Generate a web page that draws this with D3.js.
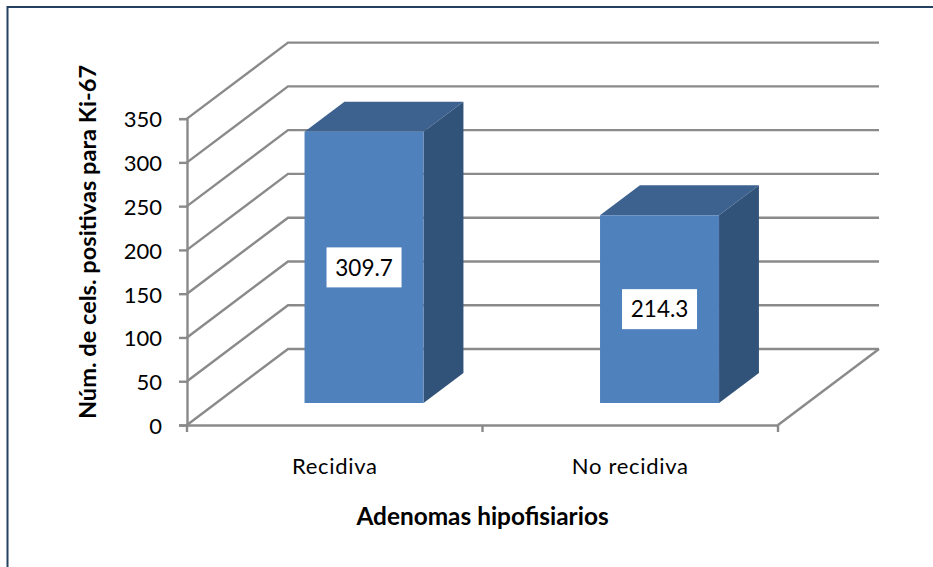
<!DOCTYPE html>
<html>
<head>
<meta charset="utf-8">
<script src="https://cdn.jsdelivr.net/npm/d3@7/dist/d3.min.js"></script>
<style>
  html, body { margin: 0; padding: 0; background: #fff; }
  svg { display: block; }
  text { font-family: Lato, "Open Sans", sans-serif; fill: #000; }
</style>
</head>
<body>
<svg id="chart" width="933" height="567"></svg>
<script>
// Ki-67 positive cell counts in pituitary adenomas
const categories = ["Recidiva", "No recidiva"];
const values = [309.7, 214.3];
const valueTicks = [0, 50, 100, 150, 200, 250, 300, 350];
const yAxisTitle = "Núm. de cels. positivas para Ki-67";
const xAxisTitle = "Adenomas hipofisiarios";

const svg = d3.select("#chart");

// Front plane of the 3D box
const x = d3.scaleBand().domain(categories).range([187, 778]);
const y = d3.scaleLinear().domain([0, 350]).range([425, 118.6]);

// Oblique projection: depth 0 is the front plane, depth 1 the back wall
const depth = d3.scaleLinear().domain([0, 1]);
const depthX = depth.copy().range([0, 101]);
const depthY = depth.copy().range([0, -76]);
const project = (px, value, d) => [px + depthX(d), y(value) + depthY(d)];

const barDepthStart = 0.29;
const barDepthEnd = 0.685;
const barWidth = 119;

const gridColor = "#8a8a8a";
const line = d3.line();

// Outer frame
svg.append("path")
  .attr("d", line([[7.5, 567], [7.5, 7], [933, 7]]))
  .attr("fill", "none").attr("stroke", "#24425f").attr("stroke-width", 2);

// Gridlines running along the side wall and the back wall
svg.append("g").selectAll("path").data(valueTicks).join("path")
  .attr("d", v => line([
    project(x.range()[0], v, 0),
    project(x.range()[0], v, 1),
    project(x.range()[1], v, 1)
  ]))
  .attr("fill", "none").attr("stroke", gridColor).attr("stroke-width", 2.4);

// Right edge of the floor
svg.append("path")
  .attr("d", line([project(x.range()[1], 0, 0), project(x.range()[1], 0, 1)]))
  .attr("fill", "none").attr("stroke", gridColor).attr("stroke-width", 2.4);

// Value axis
const yAxis = svg.append("g")
  .attr("transform", `translate(${x.range()[0]},0)`)
  .call(d3.axisLeft(y).tickValues(valueTicks).tickSize(8).tickPadding(17).tickFormat(d3.format("d")));
yAxis.selectAll("path, line").attr("stroke", gridColor).attr("stroke-width", 2.4);
yAxis.selectAll("line").attr("x1", 0).attr("x2", -8);
yAxis.selectAll("text").attr("x", -25).attr("dy", "0.38em")
  .style("font-size", "22px").style("font-family", "Lato, sans-serif").attr("fill", "#000");

// Category axis
const xAxis = svg.append("g")
  .attr("transform", `translate(0,${y(0)})`)
  .call(d3.axisBottom(x).tickSize(0).tickPadding(31));
xAxis.selectAll("path").attr("stroke", gridColor).attr("stroke-width", 2.4);
xAxis.selectAll("text")
  .attr("y", 48.5).attr("dy", 0)
  .style("font-size", "22px").style("letter-spacing", "0.7px")
  .style("font-family", "Lato, sans-serif").attr("fill", "#000");

// Category separators below the floor edge
svg.append("g").selectAll("line")
  .data([...categories.map(c => x(c)), x.range()[1]]).join("line")
  .attr("x1", d => d).attr("x2", d => d)
  .attr("y1", y(0)).attr("y2", y(0) + 7)
  .attr("stroke", gridColor).attr("stroke-width", 2.4);

// 3D columns
const bars = svg.append("g").selectAll("g")
  .data(categories.map((c, i) => ({ c, v: values[i] })))
  .join("g");

const barLeft = d => x(d.c) + x.bandwidth() / 2 - barWidth / 2;
const poly = pts => line(pts) + "Z";

bars.append("path").attr("fill", "#3d6290").attr("d", d => {
  const l = barLeft(d), r = l + barWidth;
  return poly([
    project(l, d.v, barDepthStart), project(r, d.v, barDepthStart),
    project(r, d.v, barDepthEnd), project(l, d.v, barDepthEnd)
  ]);
});
bars.append("path").attr("fill", "#325379").attr("d", d => {
  const l = barLeft(d), r = l + barWidth;
  return poly([
    project(r, 0, barDepthStart), project(r, d.v, barDepthStart),
    project(r, d.v, barDepthEnd), project(r, 0, barDepthEnd)
  ]);
});
bars.append("path").attr("fill", "#4f81bd").attr("d", d => {
  const l = barLeft(d), r = l + barWidth;
  return poly([
    project(l, 0, barDepthStart), project(r, 0, barDepthStart),
    project(r, d.v, barDepthStart), project(l, d.v, barDepthStart)
  ]);
});

// Value labels on white boxes, centred on the column face
const labels = bars.append("g").attr("transform", d => {
  const [cx, cy] = project(barLeft(d) + barWidth / 2, d.v / 2, barDepthStart);
  return `translate(${cx},${cy})`;
});
labels.append("rect").attr("x", -37.5).attr("y", -20).attr("width", 75).attr("height", 40).attr("fill", "#fff");
labels.append("text").attr("text-anchor", "middle").attr("dy", "0.36em")
  .style("font-size", "22.5px").text(d => d3.format(".1f")(d.v));

// Axis titles
svg.append("text")
  .attr("transform", "translate(96,242) rotate(-90)")
  .attr("text-anchor", "middle").attr("font-weight", 700).style("font-size", "23.6px")
  .text(yAxisTitle);
svg.append("text")
  .attr("x", 482.5).attr("y", 525)
  .attr("text-anchor", "middle").attr("font-weight", 700).style("font-size", "24.4px")
  .text(xAxisTitle);
</script>
</body>
</html>
